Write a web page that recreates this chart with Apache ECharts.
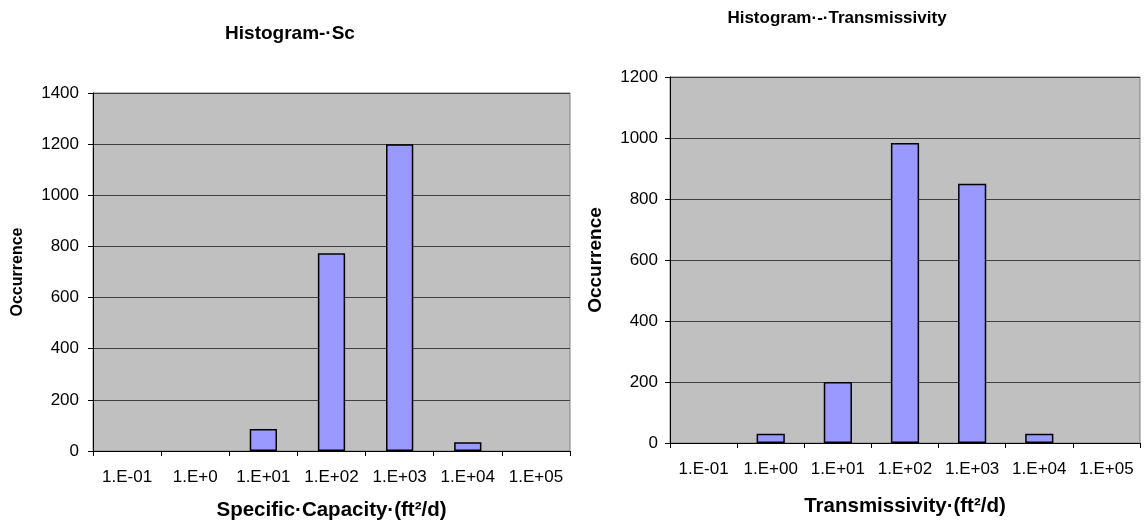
<!DOCTYPE html>
<html>
<head>
<meta charset="utf-8">
<script src="https://cdn.jsdelivr.net/npm/echarts@6/dist/echarts.min.js"></script>
<style>html,body{margin:0;padding:0;background:#fff;}#c{width:1144px;height:527px;}</style>
</head>
<body>
<div id="c"></div>
<script>
const scCategories = ['1.E-01', '1.E+0', '1.E+01', '1.E+02', '1.E+03', '1.E+04', '1.E+05'];
const scValues = [0, 0, 86, 773, 1200, 34, 0];
const scTicks = [0, 200, 400, 600, 800, 1000, 1200, 1400];

const tCategories = ['1.E-01', '1.E+00', '1.E+01', '1.E+02', '1.E+03', '1.E+04', '1.E+05'];
const tValues = [0, 30, 200, 984, 850, 30, 0];
const tTicks = [0, 200, 400, 600, 800, 1000, 1200];

const FONT = '"Liberation Sans", Arial, sans-serif';
const chart = echarts.init(document.getElementById('c'), null, {renderer: 'canvas'});

function xAxisCfg(idx, cats, name, nameGap) {
  return {
    type: 'category', gridIndex: idx, data: cats,
    name: name, nameLocation: 'middle', nameGap: nameGap,
    nameTextStyle: {fontFamily: FONT, fontWeight: 'bold', fontSize: 20.5, color: '#000'},
    axisLine: {lineStyle: {color: '#000', width: 1}},
    axisTick: {show: true, length: 5, lineStyle: {color: '#000'}},
    axisLabel: {fontFamily: FONT, fontSize: 17, color: '#000', margin: 18, interval: 0}
  };
}
function yAxisCfg(idx, ticks, nameGap, nameSize, labelMargin) {
  return {
    type: 'value', gridIndex: idx, min: ticks[0], max: ticks[ticks.length - 1], interval: ticks[1] - ticks[0],
    name: 'Occurrence', nameLocation: 'middle', nameGap: nameGap,
    nameTextStyle: {fontFamily: FONT, fontWeight: 'bold', fontSize: nameSize, color: '#000'},
    axisLine: {show: true, lineStyle: {color: '#000', width: 1}},
    axisTick: {show: true, length: 5, lineStyle: {color: '#000'}},
    axisLabel: {fontFamily: FONT, fontSize: 17, color: '#000', margin: labelMargin,
                formatter: function (v) { return String(v); }},
    splitLine: {show: true, lineStyle: {color: '#404040', width: 1.2}}
  };
}
const barStyle = {color: '#9999ff', borderColor: '#000', borderWidth: 1.5};
function bars(vals) { return vals.map(function (v) { return v === 0 ? '-' : v; }); }

chart.setOption({
  animation: false,
  backgroundColor: '#fff',
  title: [
    {text: 'Histogram-·Sc', left: 285, top: 19, textAlign: 'center',
     textStyle: {fontFamily: FONT, fontWeight: 'bold', fontSize: 19, color: '#000'}},
    {text: 'Histogram·-·Transmissivity', left: 832, top: 5, textAlign: 'center',
     textStyle: {fontFamily: FONT, fontWeight: 'bold', fontSize: 17, color: '#000'}}
  ],
  grid: [
    {left: 93, right: 574, top: 93, bottom: 76, show: true, backgroundColor: '#c0c0c0', borderWidth: 1, borderColor: '#808080'},
    {left: 670, right: 4, top: 77, bottom: 84, show: true, backgroundColor: '#c0c0c0', borderWidth: 1, borderColor: '#808080'}
  ],
  xAxis: [
    xAxisCfg(0, scCategories, 'Specific·Capacity·(ft²/d)', 49),
    xAxisCfg(1, tCategories, 'Transmissivity·(ft²/d)', 53)
  ],
  yAxis: [
    yAxisCfg(0, scTicks, 67, 16, 14),
    yAxisCfg(1, tTicks, 65, 19, 12)
  ],
  series: [
    {type: 'bar', xAxisIndex: 0, yAxisIndex: 0, data: bars(scValues), barWidth: '40%', itemStyle: barStyle},
    {type: 'bar', xAxisIndex: 1, yAxisIndex: 1, data: bars(tValues), barWidth: '42%', itemStyle: barStyle}
  ]
});
</script>
</body>
</html>
